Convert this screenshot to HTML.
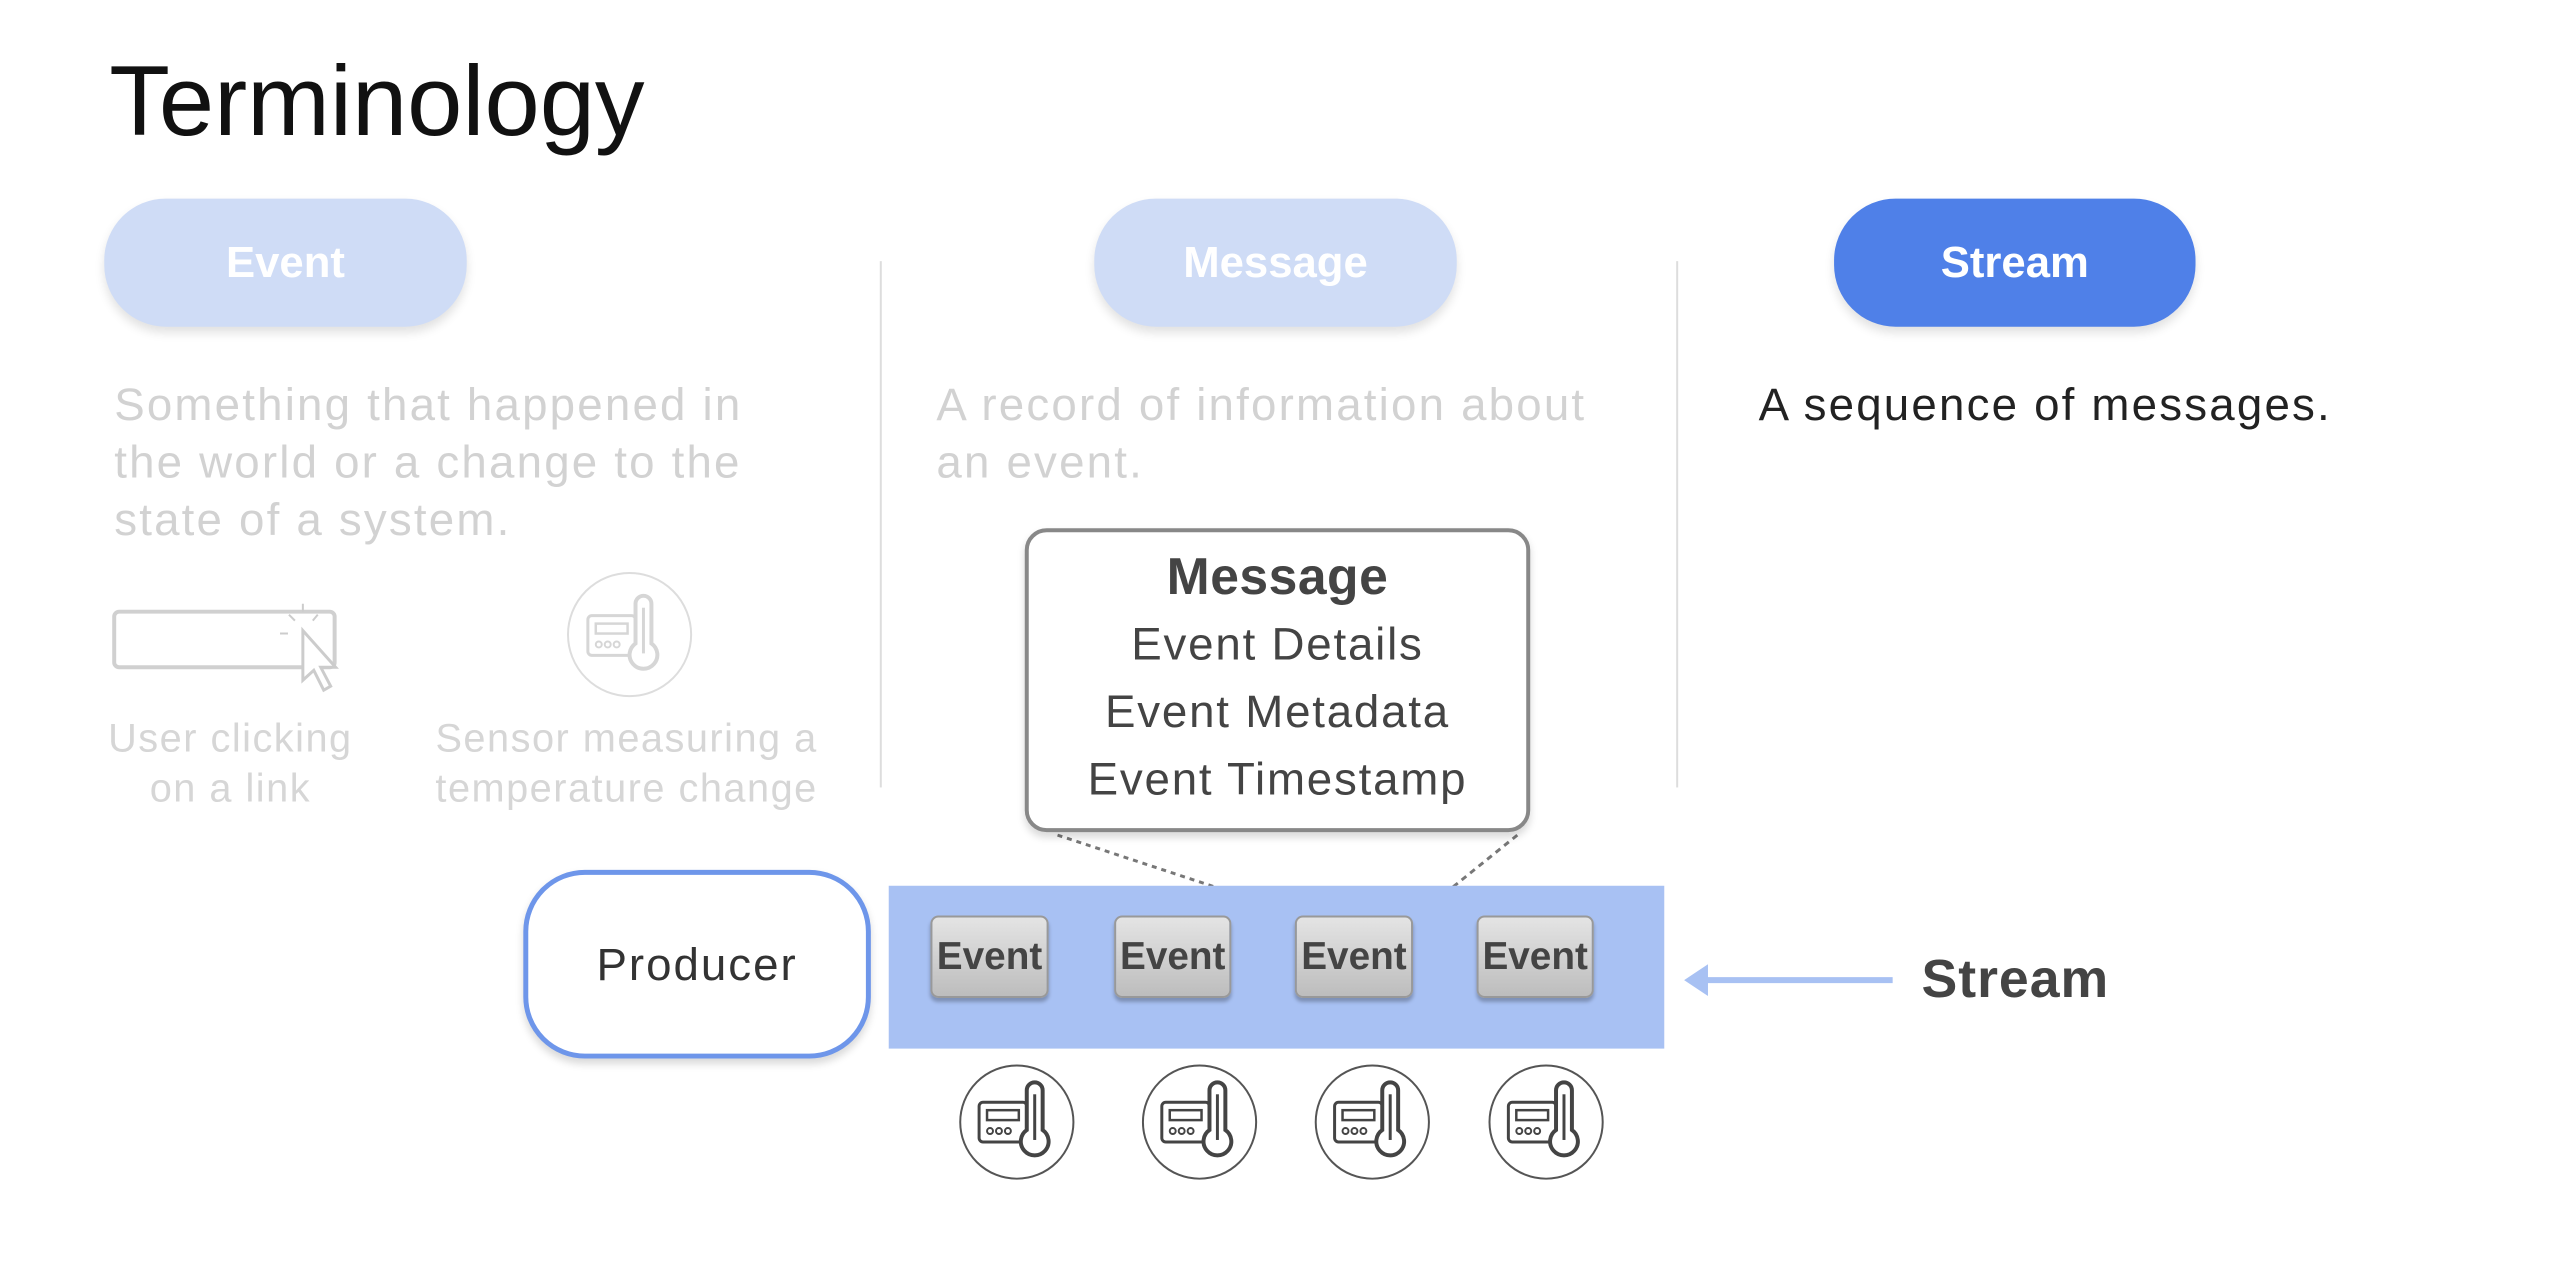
<!DOCTYPE html>
<html><head><style>
body{margin:0;width:2556px;height:1270px;background:#fff;position:relative;overflow:hidden;font-family:"Liberation Sans",sans-serif}
#w{position:absolute;left:0;top:0;width:2556px;height:1270px;transform:scale(0.993);transform-origin:0 0}
.a{position:absolute}
.pill{position:absolute;border-radius:62px;color:#fff;font-weight:bold;font-size:44px;display:flex;align-items:center;justify-content:center;box-shadow:0 6px 10px rgba(0,0,0,0.12)}
.txt{position:absolute;font-size:46px;line-height:58px;color:#d2d2d2;letter-spacing:2.2px;white-space:nowrap}
.cap{position:absolute;font-size:40px;line-height:50px;color:#d6d6d6;text-align:center;letter-spacing:1.5px;white-space:nowrap}
.chip{position:absolute;top:922px;height:83px;border-radius:8px;background:linear-gradient(#e4e4e4,#bdbdbd);border:2px solid #999;box-sizing:border-box;display:flex;align-items:center;justify-content:center;font-weight:bold;font-size:39px;color:#444;box-shadow:0 4px 4px rgba(0,0,0,0.25)}
</style></head><body><div id="w">
<div class="a" style="left:110px;top:45px;font-size:100px;color:#111;">Terminology</div>
<div class="pill" style="left:105px;top:200px;width:365px;height:129px;background:#cfdcf6">Event</div>
<div class="pill" style="left:1102px;top:200px;width:365px;height:129px;background:#cfdcf6">Message</div>
<div class="pill" style="left:1847px;top:200px;width:364px;height:129px;background:#4f80e8">Stream</div>
<div class="a" style="left:886px;top:263px;width:2px;height:530px;background:#ddd"></div>
<div class="a" style="left:1688px;top:263px;width:2px;height:530px;background:#ddd"></div>
<div class="txt" style="left:115px;top:378px">Something that happened in<br>the world or a change to the<br>state of a system.</div>
<div class="txt" style="left:943px;top:378px">A record of information about<br>an event.</div>
<div class="txt" style="left:1771px;top:378px;color:#222">A sequence of messages.</div>
<svg class="a" style="left:0;top:0" width="2556" height="1270">
<defs><g id="sen"><rect x="-38" y="-22" width="48" height="40" rx="4" fill="none" stroke="currentColor" stroke-width="3"/><rect x="-30" y="-14" width="32" height="10" fill="none" stroke="currentColor" stroke-width="2.5"/><circle cx="-27" cy="7" r="3" fill="none" stroke="currentColor" stroke-width="2"/><circle cx="-18" cy="7" r="3" fill="none" stroke="currentColor" stroke-width="2"/><circle cx="-9" cy="7" r="3" fill="none" stroke="currentColor" stroke-width="2"/><path d="M10,-34 a8,8 0 0 1 16,0 v40 a14,14 0 1 1 -16,0 z" fill="#fff" stroke="currentColor" stroke-width="4"/><line x1="18" y1="-30" x2="18" y2="16" stroke="currentColor" stroke-width="3"/></g></defs>
<rect x="115" y="616" width="222" height="56" rx="5" fill="none" stroke="#d0d0d0" stroke-width="4"/>
<path d="M305,635 l0,50 l11,-10 l10,20 l7,-4 l-10,-19 l15,0 z" fill="#fff" stroke="#ccc" stroke-width="3"/>
<path d="M297,625 l-6,-6 M305,616 v-8 M290,638 h-8 M315,625 l5,-6" stroke="#ccc" stroke-width="2"/>
<circle cx="634" cy="639" r="62" fill="none" stroke="#ddd" stroke-width="2"/>
<use href="#sen" x="630" y="642" style="color:#d6d6d6"/>
<line x1="1065" y1="841" x2="1314" y2="923" stroke="#777" stroke-width="3" stroke-dasharray="5,5"/>
<line x1="1528" y1="841" x2="1430" y2="920" stroke="#777" stroke-width="3" stroke-dasharray="6,5"/>
<rect x="895" y="892" width="781" height="164" fill="#a8c1f3"/>
<line x1="1906" y1="987" x2="1712" y2="987" stroke="#a8c1f3" stroke-width="6"/>
<path d="M1696,987 l24,-16 l0,32 z" fill="#a8c1f3"/>
<g style="color:#444">
<circle cx="1024" cy="1130" r="57" fill="none" stroke="#555" stroke-width="2"/><use href="#sen" x="1024" y="1132"/>
<circle cx="1208" cy="1130" r="57" fill="none" stroke="#555" stroke-width="2"/><use href="#sen" x="1208" y="1132"/>
<circle cx="1382" cy="1130" r="57" fill="none" stroke="#555" stroke-width="2"/><use href="#sen" x="1382" y="1132"/>
<circle cx="1557" cy="1130" r="57" fill="none" stroke="#555" stroke-width="2"/><use href="#sen" x="1557" y="1132"/>
</g>
</svg>
<div class="cap" style="left:82px;top:719px;width:300px">User clicking<br>on a link</div>
<div class="cap" style="left:411px;top:719px;width:440px">Sensor measuring a<br>temperature change</div>
<div class="a" style="left:1032px;top:532px;width:509px;height:306px;box-sizing:border-box;border:4px solid #888;border-radius:22px;background:#fff;box-shadow:0 5px 8px rgba(0,0,0,0.15);text-align:center;color:#444;font-size:46px;letter-spacing:1.8px;line-height:68px;white-space:nowrap">
<div style="font-weight:bold;font-size:52px;line-height:50px;margin-top:20px;margin-bottom:8px;letter-spacing:0.5px">Message</div>Event Details<br>Event Metadata<br>Event Timestamp</div>
<div class="a" style="left:527px;top:876px;width:350px;height:190px;box-sizing:border-box;border:5px solid #6e96ea;border-radius:62px;background:#fff;display:flex;align-items:center;justify-content:center;font-size:46px;letter-spacing:2px;color:#333;box-shadow:0 5px 8px rgba(0,0,0,0.15)">Producer</div>
<div class="chip" style="left:937px;width:119px">Event</div>
<div class="chip" style="left:1122px;width:118px">Event</div>
<div class="chip" style="left:1304px;width:119px">Event</div>
<div class="chip" style="left:1487px;width:118px">Event</div>
<div class="a" style="left:1935px;top:955px;font-size:54px;letter-spacing:1px;font-weight:bold;color:#444">Stream</div>
</div></body></html>
